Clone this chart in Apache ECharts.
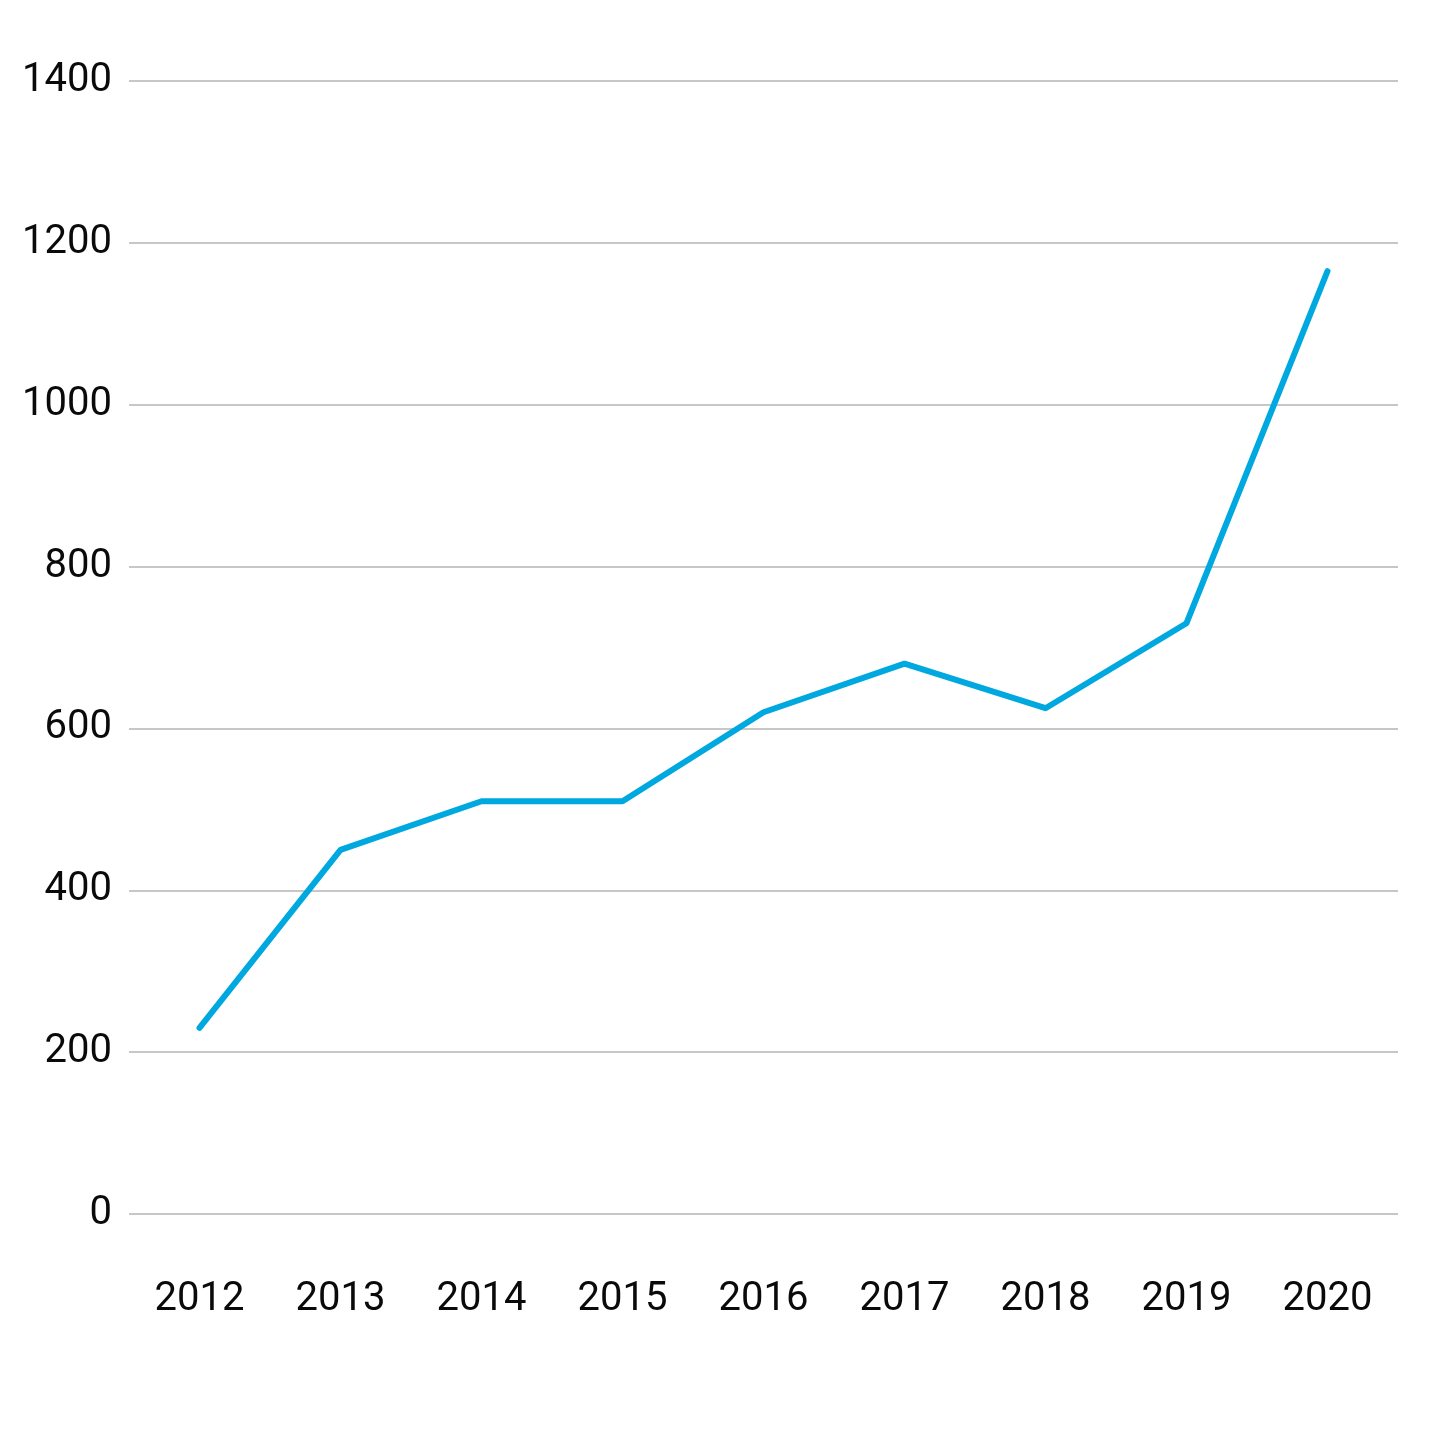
<!DOCTYPE html>
<html>
<head>
<meta charset="utf-8">
<script src="https://cdn.jsdelivr.net/npm/echarts@6/dist/echarts.min.js"></script>
<style>
  html, body { margin: 0; padding: 0; background: #fff; }
  #chart { width: 1440px; height: 1440px; }
</style>
</head>
<body>
<div id="chart"></div>
<script>
const years = ["2012", "2013", "2014", "2015", "2016", "2017", "2018", "2019", "2020"];
const values = [230, 450, 510, 510, 620, 680, 625, 730, 1165];
const yTicks = [0, 200, 400, 600, 800, 1000, 1200, 1400];

const chart = echarts.init(document.getElementById("chart"));

const option = {
    animation: false,
    grid: {
        left: 129,
        right: 42,
        top: 81,
        bottom: 226
    },
    xAxis: {
        type: "category",
        data: years,
        boundaryGap: true,
        axisLine: { show: false },
        axisTick: { show: false },
        axisLabel: {
            color: "#0a0a0a",
            fontFamily: "Roboto",
            fontSize: 40,
            margin: 66
        }
    },
    yAxis: {
        type: "value",
        min: yTicks[0],
        max: yTicks[yTicks.length - 1],
        interval: 200,
        axisLine: { show: false },
        axisTick: { show: false },
        splitLine: { lineStyle: { color: "#b4b4b4", width: 1.5 } },
        axisLabel: {
            color: "#0a0a0a",
            fontFamily: "Roboto",
            fontSize: 40,
            margin: 17,
            padding: [10, 0, 0, 0],
            formatter: (v) => String(v)
        }
    },
    series: [
        {
            type: "line",
            data: values,
            showSymbol: false,
            lineStyle: { color: "#00a8e0", width: 6, cap: "round", join: "round" }
        }
    ]
};

chart.setOption(option);
</script>
</body>
</html>
